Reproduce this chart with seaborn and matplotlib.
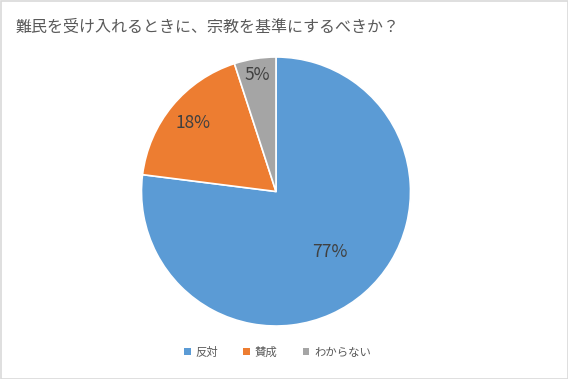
import numpy as np
import matplotlib
matplotlib.use("Agg")
import matplotlib.pyplot as plt
import seaborn as sns
from matplotlib.patches import Rectangle

sns.set_theme(style="white")
plt.rcParams['font.family'] = ['Noto Sans CJK JP', 'DejaVu Sans']

title = "難民を受け入れるときに、宗教を基準にするべきか？"
labels = ["反対", "賛成", "わからない"]
shares = [77, 18, 5]
colors = ["#5B9BD5", "#ED7D31", "#A5A5A5"]
label_radius = [0.6, 0.8, 0.88]

fig = plt.figure(figsize=(5.68, 3.79), dpi=100)
ax = fig.add_axes([0.2491, 0.1398, 0.4736, 0.7098])

wedges, _ = ax.pie(shares, colors=colors, startangle=90, counterclock=False,
                   radius=1, wedgeprops=dict(edgecolor="white", linewidth=1.2))
ax.set_xlim(-1, 1)
ax.set_ylim(-1, 1)
ax.set_aspect("equal")
ax.axis("off")

for w, v, r in zip(wedges, shares, label_radius):
    mid = np.deg2rad((w.theta1 + w.theta2) / 2)
    ax.text(r * np.cos(mid), r * np.sin(mid), f"{v}%", ha="center", va="center",
            fontsize=12.5, color="#404040")

fig.text(15 / 568, 1 - 27 / 379, title, ha="left", va="center",
         fontsize=11.5, color="#595959")

leg = fig.legend(wedges, labels, loc="center", bbox_to_anchor=(0.4886, 1 - 352 / 379),
                 ncol=3, frameon=False, fontsize=8.2, handlelength=0.6, handleheight=0.6,
                 handletextpad=0.4, columnspacing=2.2, labelcolor="#595959")
for h in leg.legend_handles:
    h.set_edgecolor("none")

fig.patches.append(Rectangle((0.5 / 568, 0.5 / 379), 1 - 1 / 568, 1 - 1 / 379,
                             transform=fig.transFigure, fill=False,
                             edgecolor="#D9D9D9", linewidth=1.2))

fig.savefig("out.png", dpi=100)
